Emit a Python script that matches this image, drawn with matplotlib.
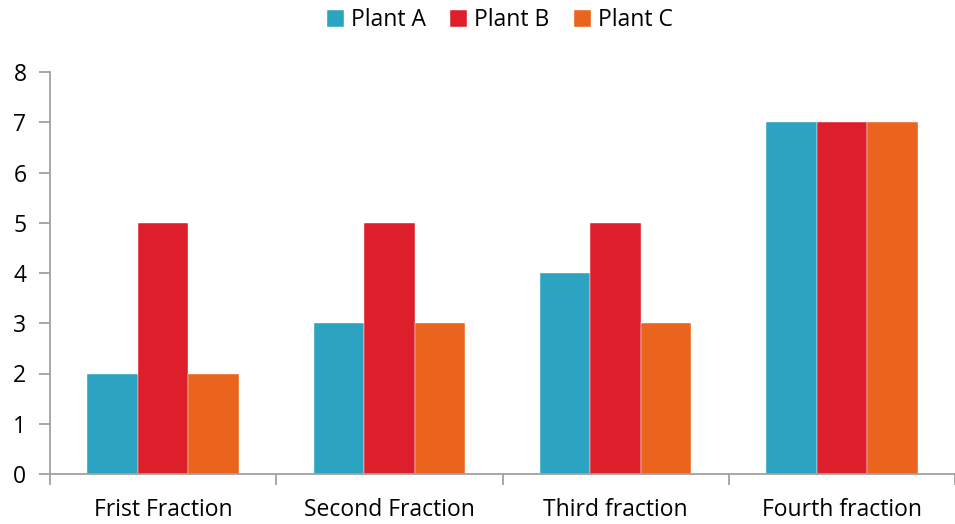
import numpy as np
import matplotlib
matplotlib.use('Agg')
import matplotlib.pyplot as plt

plt.rcParams['font.family'] = ['Open Sans', 'DejaVu Sans']

# DATA
categories = ['Frist Fraction', 'Second Fraction', 'Third fraction', 'Fourth fraction']
plant_a = [2, 3, 4, 7]
plant_b = [5, 5, 5, 7]
plant_c = [2, 3, 3, 7]
series_names = ['Plant A', 'Plant B', 'Plant C']
colors = ['#2CA3C0', '#DC1F2A', '#EA641E']

fig = plt.figure(figsize=(9.55, 5.24), dpi=100)
ax = fig.add_axes([50 / 955, 50 / 524, 905 / 955, 402 / 524])

x = np.arange(len(categories))
w = 0.223
for i, (vals, name, c) in enumerate(zip([plant_a, plant_b, plant_c], series_names, colors)):
    ax.bar(x + (i - 1) * w, vals, width=w, color=c, label=name,
           edgecolor='white', linewidth=0.3)

ax.set_ylim(0, 8)
ax.set_xlim(-0.5, 3.473)
ax.set_yticks(range(0, 9))
ax.set_xticks(x)
ax.set_xticklabels(categories)
ax.set_xticks(np.arange(-0.5, 4, 1), minor=True)
ax.tick_params(axis='x', which='major', length=0, pad=17, labelsize=16.5)
ax.tick_params(axis='x', which='minor', length=8, color='#A0A0A0', width=1.3)
ax.tick_params(axis='y', length=8, color='#A0A0A0', width=1.3, labelsize=16.5, pad=9)

for s in ['top', 'right']:
    ax.spines[s].set_visible(False)
for s in ['left', 'bottom']:
    ax.spines[s].set_color('#A0A0A0')
    ax.spines[s].set_linewidth(1.3)

ax.legend(loc='upper center', bbox_to_anchor=(0.497, 1.21), ncol=3, frameon=False,
          fontsize=16.5, handlelength=0.75, handleheight=0.75, handletextpad=0.3,
          columnspacing=1.05)

fig.savefig('out.png', dpi=100)
